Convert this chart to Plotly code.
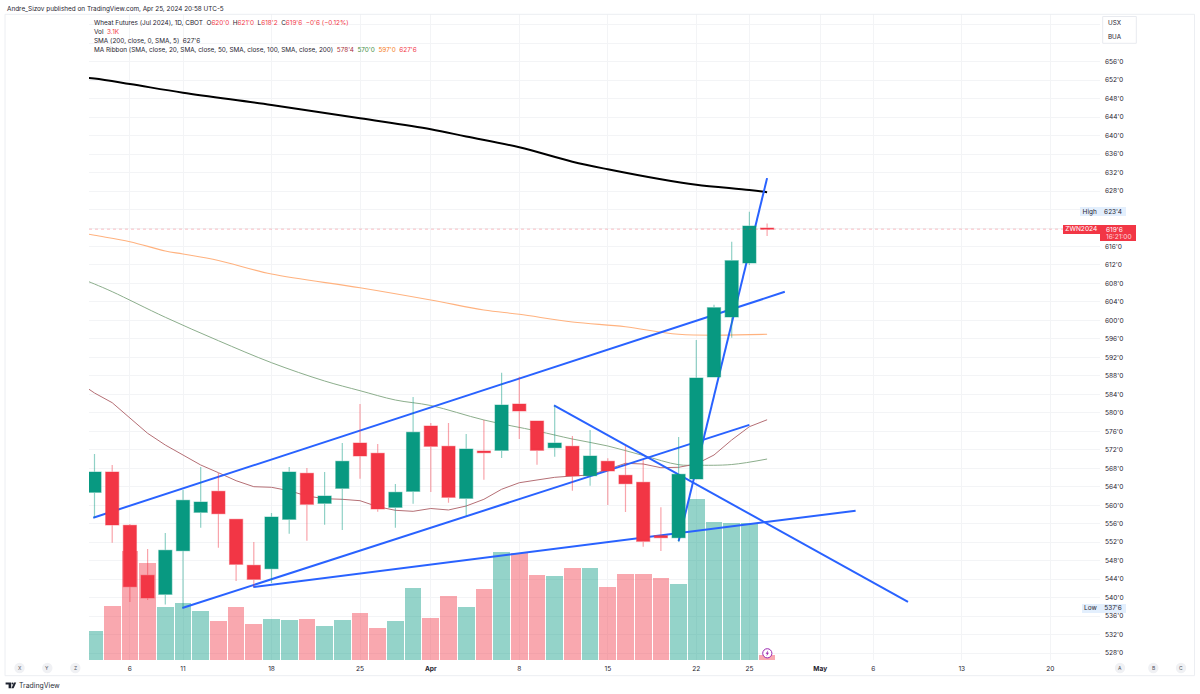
import plotly.graph_objects as go

# ---------- data ----------
dates = ["Mar 4","Mar 5","Mar 6","Mar 7","Mar 8","Mar 11","Mar 12","Mar 13","Mar 14","Mar 15",
         "Mar 18","Mar 19","Mar 20","Mar 21","Mar 22","Mar 25","Mar 26","Mar 27","Mar 28","Apr 1",
         "Apr 2","Apr 3","Apr 4","Apr 5","Apr 8","Apr 9","Apr 10","Apr 11","Apr 12","Apr 15",
         "Apr 16","Apr 17","Apr 18","Apr 19","Apr 22","Apr 23","Apr 24","Apr 25","Apr 26"]
opens = [562.8,567.19,555.65,544.83,540.72,550.16,558.47,563.01,556.95,547.0,
         546.26,556.95,566.91,560.42,563.66,573.47,571.24,559.55,563.01,577.15,
         572.75,561.5,571.74,571.89,581.91,578.23,572.45,572.75,566.39,569.51,
         566.48,564.96,553.4,552.97,565.68,587.75,600.74,612.43,620.0]
highs = [571.09,568.71,555.94,550.52,553.99,563.29,568.27,566.97,557.02,552.04,
         558.32,568.27,568.06,567.19,573.47,581.89,573.25,564.59,583.43,577.8,
         577.8,575.42,578.45,588.68,587.82,578.23,581.54,574.98,576.28,570.16,
         572.82,569.79,559.55,574.77,595.76,603.4,617.04,623.5,621.0]
lows = [557.23,551.89,539.05,539.48,538.5,537.75,555.13,550.81,543.6,542.3,
        543.16,553.84,552.32,555.78,554.64,565.74,558.6,555.13,560.33,562.86,
        560.55,557.73,565.52,570.22,574.33,568.77,570.5,563.14,564.23,560.05,
        558.53,551.02,550.09,552.1,565.68,587.75,596.26,612.0,618.25]
closes = [567.19,555.72,542.36,539.92,550.24,561.06,560.7,558.16,547.21,543.97,
          557.45,567.19,560.2,562.0,569.51,570.65,559.18,562.8,575.78,572.75,
          561.71,572.17,571.37,581.69,580.39,571.89,573.47,566.32,570.65,567.41,
          564.66,552.19,552.97,566.69,587.54,602.75,612.93,620.44,619.75]
volumes_k = [17.5,33,67.6,59.7,32.4,35.3,30.2,23.7,32.9,22.1,25.2,24.8,25.2,20.9,24.8,29.1,19.4,23.7,44.5,25.9,
             39.5,32.7,43.8,66.8,66.3,52.5,52.1,56.6,57,45.3,53.3,53.1,50.7,47.1,99.8,85.4,84.8,84.8,3.1]

sma200_bar = [-1,0,2,5,10,15,19,21,24,27,29,32,34,37,38]
sma200 = [652.7,652.34,651.17,649.29,646.63,643.75,641.37,639.8,637.47,634.35,632.71,630.55,629.38,628.23,627.75]
ma100_bar = [-1,0,2,4,5,7,10,15,19,22,24,27,30,33,38]
ma100 = [619.14,618.42,617.04,615.03,614.38,612.97,610.05,607.08,604.42,602.25,601.32,599.66,598.64,597.0,597.0]
ma50_bar = [-1,0,1,4,7,10,13,15,17,19,22,25,27,29,31,33,34,36,38]
ma50 = [609.4,607.88,606.22,600.68,595.61,590.85,586.89,584.79,582.77,581.58,578.45,576.06,574.33,572.82,570.76,568.77,568.66,568.81,570.0]
ma20_bar = list(range(-1, 39))
ma20 = [586.89,584.29,582.19,578.81,575.57,573.03,570.87,568.71,567.04,565.31,564.01,563.88,563.14,562.0,561.41,561.28,
        560.98,559.68,558.9,558.68,559.29,558.97,559.83,561.28,563.45,564.87,565.46,566.04,566.33,566.54,567.77,569.07,
        568.92,568.12,568.21,568.92,570.87,574.12,577.0,578.5]

# drawn trend lines: (start bar, start price, end bar, end price)
trend_lines = [
    (-0.07, 557.3, 39.0, 606.2),
    (4.96, 537.75, 37.0, 577.4),
    (8.97, 542.3, 43.0, 558.8),
    (25.96, 581.6, 45.96, 539.1),
    (33.0, 552.2, 38.0, 630.8),
]

y_tick_vals = list(range(528, 668, 4))
hidden_ticks = {620, 624, 660, 664}
y_tick_text = ["" if v in hidden_ticks else f"{v}'0" for v in y_tick_vals]
x_tick_vals = [2, 5, 10, 15, 19, 24, 29, 34, 37, 41, 44, 49, 54]
x_tick_text = ["6", "11", "18", "25", "<b>Apr</b>", "8", "15", "22", "25", "<b>May</b>", "6", "13", "20"]

# ---------- style / layout ----------
W, H = 1200, 694
FONT = "Inter"
GREEN, RED = "#089981", "#F23645"
INK = "#1f2430"
GRID = "#f3f4f6"
PL, PR, PT, PB = 89, 1100, 14.3, 660
BAR0, BARW = 94.5, 17.7
PX_PER_PT, Y656 = 4.62, 61.7
SP = "\u00a0\u00a0"

def fx(px): return px / W
def fy(py): return 1 - py / H

x_range = [(PL - BAR0) / BARW, (PR - BAR0) / BARW]
y_range = [656 - (PB - Y656) / PX_PER_PT, 656 - (PT - Y656) / PX_PER_PT]
vol_range = [0, (PB - PT) * 0.62]
bars = list(range(len(dates)))

fig = go.Figure()
vol_colors = ["rgba(8,153,129,0.43)" if c >= o else "rgba(242,54,69,0.43)" for o, c in zip(opens, closes)]
fig.add_trace(go.Bar(x=bars, y=volumes_k, marker=dict(color=vol_colors, line_width=0), width=0.945,
                     yaxis="y", name="Vol", customdata=dates))
for bx, vals, col, lw, nm, shape in [
    (sma200_bar, sma200, "#000000", 2.0, "SMA 200", "spline"),
    (ma100_bar, ma100, "#FFB27F", 1.1, "MA 100", "spline"),
    (ma50_bar, ma50, "#8CAE8C", 1.0, "MA 50", "spline"),
    (ma20_bar, ma20, "#B56F75", 1.0, "MA 20", "linear"),
]:
    fig.add_trace(go.Scatter(x=bx, y=vals, mode="lines", line=dict(color=col, width=lw, shape=shape),
                             yaxis="y2", name=nm))
for i, (x0, p0, x1, p1) in enumerate(trend_lines):
    fig.add_trace(go.Scatter(x=[x0, x1], y=[p0, p1], mode="lines", line=dict(color="#2962FF", width=2),
                             yaxis="y2", name=f"Trend {i+1}"))
fig.add_trace(go.Candlestick(x=bars, open=opens, high=highs, low=lows, close=closes, yaxis="y3",
                             whiskerwidth=0, name="ZWN2024",
                             increasing=dict(fillcolor=GREEN, line=dict(color="rgba(8,153,129,0.45)", width=1.2)),
                             decreasing=dict(fillcolor=RED, line=dict(color="rgba(242,54,69,0.45)", width=1.2))))

domain_y = [fy(PB), fy(PT)]
fig.update_layout(
    width=W, height=H, margin=dict(l=0, r=0, t=0, b=0), autosize=False, showlegend=False,
    paper_bgcolor="white", plot_bgcolor="white", font=dict(family=FONT, color=INK, size=6.5),
    boxgap=0.26, boxgroupgap=0, bargap=0,
    xaxis=dict(domain=[fx(PL), fx(PR)], range=x_range, tickmode="array", tickvals=x_tick_vals, ticktext=x_tick_text,
               showgrid=True, gridcolor=GRID, gridwidth=1, zeroline=False, showline=False, ticks="", rangeslider=dict(visible=False),
               tickfont=dict(family=FONT, size=6.6, color=INK), ticklabelstandoff=3, anchor="y"),
    yaxis=dict(domain=domain_y, range=vol_range, showgrid=False, zeroline=False, showticklabels=False, ticks=""),
    yaxis2=dict(domain=domain_y, range=y_range, overlaying="y", side="right", anchor="x",
                tickmode="array", tickvals=y_tick_vals, ticktext=y_tick_text, showgrid=True, gridcolor=GRID, gridwidth=1,
                zeroline=False, showline=False, ticks="", tickfont=dict(family=FONT, size=6.6, color=INK), ticklabelstandoff=4),
    yaxis3=dict(domain=domain_y, range=y_range, overlaying="y", side="right", anchor="x", visible=False, matches="y2"),
)

shapes = []
def rect(x0, y0, x1, y1, fill=None, line=None, lw=1):
    shapes.append(dict(type="rect", xref="paper", yref="paper", x0=fx(x0), x1=fx(x1), y0=fy(y1), y1=fy(y0),
                       fillcolor=fill or "rgba(0,0,0,0)", line=dict(color=line or "rgba(0,0,0,0)", width=lw if line else 0)))
def circle(cx, cy, r, fill, line=None, lw=1):
    shapes.append(dict(type="circle", xref="paper", yref="paper", x0=fx(cx - r), x1=fx(cx + r), y0=fy(cy + r), y1=fy(cy - r),
                       fillcolor=fill, line=dict(color=line or "rgba(0,0,0,0)", width=lw if line else 0)))
def poly(points, fill):
    d = "M" + " L".join(f"{fx(a):.5f},{fy(b):.5f}" for a, b in points) + " Z"
    shapes.append(dict(type="path", xref="paper", yref="paper", path=d, fillcolor=fill, line=dict(width=0)))

# outer frame
rect(5, 14.3, 1194.5, 675.7, line="#eceef2", lw=1)
# current price dotted line
shapes.append(dict(type="line", xref="paper", yref="y2", x0=fx(PL), x1=fx(1063), y0=closes[-1], y1=closes[-1],
                   line=dict(color="rgba(242,54,69,0.3)", width=1, dash="dot")))
# corner circles
for cx in (19.5, 47.3, 75.3, 1120, 1153.3, 1181):
    circle(cx, 668, 5.2, "#f0f1f4")
# pane tags box
rect(1102.7, 16.5, 1136.3, 43.3, fill="white", line="#e8eaef", lw=1)
# lightning marker
circle(767.3, 653.3, 4.6, "white", line="#9C27B0", lw=1)
poly([(768.2, 650.3), (765.6, 653.8), (767.1, 653.8), (766.4, 656.3), (769.0, 652.7), (767.5, 652.7)], "#9C27B0")
# logo
poly([(5.6, 682.6), (11.2, 682.6), (11.2, 688.2), (8.6, 688.2), (8.6, 684.6), (5.6, 684.6)], INK)
circle(12.5, 683.6, 1.0, INK)
poly([(14.0, 682.6), (16.2, 682.6), (13.6, 688.2), (11.4, 688.2)], INK)
fig.layout.shapes = shapes

def text(px, py, s, size=6.4, color=INK, anchor="left", **kw):
    fig.add_annotation(xref="paper", yref="paper", x=fx(px), y=fy(py), text=s, showarrow=False, xanchor=anchor, yanchor="middle",
                       align=anchor, font=dict(family=FONT, size=size, color=color), borderpad=0, **kw)

def red(s): return f'<span style="color:{RED}">{s}</span>'

text(5.5, 8.5, "Andre_Sizov published on TradingView.com, Apr 25, 2024 20:58 UTC-5", size=6.4)
text(93, 22.7, "Wheat Futures (Jul 2024), 1D, CBOT" + SP + "O" + red("620'0") + SP + "H" + red("621'0") + SP + "L" + red("618'2")
     + SP + "C" + red("619'6") + SP + red("−0'6 (−0.12%)"))
text(93, 31.7, "Vol" + SP + red("3.1K"))
text(93, 40.7, "SMA (200, close, 0, SMA, 5)" + SP + "627'6")
text(93, 50, "MA Ribbon (SMA, close, 20, SMA, close, 50, SMA, close, 100, SMA, close, 200)" + SP +
     '<span style="color:#A8323E">578\'4</span>' + SP + '<span style="color:#3E8E41">570\'0</span>' + SP +
     '<span style="color:#F57C22">597\'0</span>' + SP + red("627'6"))

def box_label(x0, x1, y0, y1, s, bg, color, size=6.5):
    fig.add_annotation(xref="paper", yref="paper", x=fx(x0), y=fy(y0), xanchor="left", yanchor="top", width=x1 - x0, height=y1 - y0,
                       text=s, showarrow=False, bgcolor=bg, align="center", valign="middle", borderpad=0, borderwidth=0,
                       font=dict(family=FONT, size=size, color=color))

BADGE = "#E3EFFD"
box_label(1080, 1099.5, 207.3, 216.6, "High", BADGE, INK)
box_label(1100, 1126, 207.3, 216.6, "623'4", BADGE, INK)
box_label(1082, 1099.5, 604, 612.7, "Low", BADGE, INK)
box_label(1100, 1126, 604, 612.7, "537'6", BADGE, INK)
box_label(1063, 1099.5, 225.3, 234, "ZWN2024", RED, "white", size=6.6)
box_label(1100, 1136, 225.3, 241.5, "", RED, "white")
text(1105, 229.8, "619'6", color="white", size=6.6)
text(1105, 237.2, "16:21:00", color="rgba(255,255,255,0.8)", size=6.6)
text(1107, 23.5, "USX", size=6.3)
text(1107, 36.7, "BUA", size=6.3)
for cx, s in [(19.5, "X"), (47.3, "Y"), (75.3, "Z"), (1120, "A"), (1153.3, "B"), (1181, "C")]:
    text(cx, 668, s, size=5.0, color="#50535e", anchor="center")
text(18.3, 685.3, "TradingView", size=6.9, color="#2a2e39")

fig.write_html("out.html", config=dict(displayModeBar=False),
               post_script="document.body.style.margin='0';document.documentElement.style.overflow='hidden';")
